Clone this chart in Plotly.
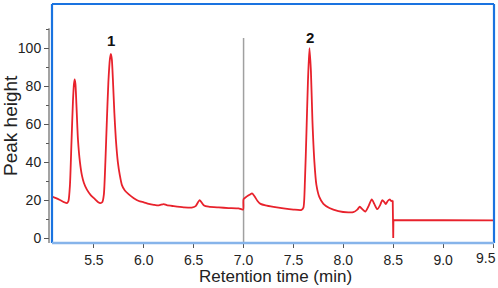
import plotly.graph_objects as go

# Chromatogram trace (retention time in min, peak height)
rt = [5.08, 5.12, 5.16, 5.20, 5.23, 5.245, 5.26, 5.275, 5.29, 5.30, 5.307, 5.315, 5.325, 5.34, 5.36,
      5.38, 5.40, 5.43, 5.47, 5.51, 5.54, 5.565, 5.585, 5.60, 5.615, 5.63, 5.645, 5.66, 5.67, 5.68,
      5.69, 5.705, 5.72, 5.74, 5.76, 5.78, 5.81, 5.85, 5.90, 5.95, 6.00, 6.05, 6.10, 6.15, 6.20,
      6.23, 6.30, 6.40, 6.48, 6.52, 6.56, 6.60, 6.65, 6.75, 6.85, 6.95, 6.995, 7.00, 7.03, 7.06,
      7.085, 7.11, 7.14, 7.17, 7.22, 7.30, 7.40, 7.50, 7.58, 7.60, 7.615, 7.63, 7.645, 7.66, 7.675,
      7.69, 7.71, 7.73, 7.76, 7.80, 7.86, 7.95, 8.05, 8.10, 8.14, 8.165, 8.19, 8.22, 8.25, 8.285,
      8.31, 8.34, 8.37, 8.39, 8.41, 8.425, 8.445, 8.465, 8.48, 8.495, 8.50, 8.502, 9.51]
height = [21.8, 21.0, 20.0, 18.9, 18.4, 19.5, 28, 50, 72, 81, 83.5, 81, 70, 52, 40,
          33, 29, 25.5, 22.5, 20.5, 19, 18.4, 19, 23, 40, 62, 82, 94, 97, 94,
          84, 66, 52, 40, 33, 28, 25, 23, 21, 19.5, 18.8, 18.0, 17.5, 17.2, 17.9,
          17.3, 16.8, 16.2, 16.0, 16.8, 20.0, 17.3, 16.5, 16.1, 15.8, 15.6, 15.0, 20.5, 21.8, 22.8,
          23.5, 22, 19.5, 18, 17.2, 16.4, 15.6, 15.0, 14.8, 16, 30, 55, 82, 100, 88,
          62, 40, 28, 21.5, 18, 15.8, 14.2, 13.5, 13.6, 15, 16.5, 15.2, 13.9, 16.5, 20.4,
          18, 15.2, 17.5, 20.0, 19, 17.9, 19.5, 20.4, 19.5, 19.8, 0, 9.5, 9.3]

x_ticks = [5.5, 6.0, 6.5, 7.0, 7.5, 8.0, 8.5, 9.0, 9.5]
y_ticks = [0, 20, 40, 60, 80, 100]
y_minor = [10, 30, 50, 70, 90, 110]
peak_labels = ["1", "2"]
peak_rt = [5.67, 7.665]
peak_label_y = [104.2, 105.8]
divider_rt = 7.0

W, H = 498, 288
L, R, T, B = 49, 4, 4, 45
PW, PH = W - L - R, H - T - B
def px_x(p):
    return (p - L) / PW
def px_y(p):
    return 1 - (p - T) / PH

font = "Liberation Sans, Arial, sans-serif"
x_lo, x_hi = 5.08, 9.51
y_lo, y_hi = -2.6, 123.2
red = "#e8222c"
tick_font = dict(family=font, size=14, color="#222")

# split at the detector step (8.5 min): smooth part, then straight step
cut = rt.index(8.495)
fig = go.Figure()
fig.add_trace(go.Scatter(x=rt[:cut + 1], y=height[:cut + 1], mode="lines",
                         line=dict(color=red, width=1.8, shape="spline", smoothing=0.6),
                         hoverinfo="skip"))
fig.add_trace(go.Scatter(x=rt[cut:], y=height[cut:], mode="lines",
                         line=dict(color=red, width=1.8), hoverinfo="skip"))

# last tick label sits at the right edge: draw it right-aligned so it is not cut
tick_text = [f"{v:.1f}" for v in x_ticks[:-1]] + [""]

fig.update_layout(
    width=W, height=H, margin=dict(l=L, r=R, t=T, b=B, autoexpand=False),
    paper_bgcolor="white", plot_bgcolor="white", showlegend=False,
    xaxis=dict(domain=[px_x(52), 1], range=[x_lo, x_hi], tickvals=x_ticks,
               ticktext=tick_text, ticks="outside", ticklen=4,
               tickcolor="#555", showgrid=False, zeroline=False, showline=False,
               ticklabeloverflow="allow", automargin=False, tickfont=tick_font),
    yaxis=dict(anchor="free", position=0, range=[y_lo, y_hi], tickvals=y_ticks,
               ticks="outside", ticklen=5, tickcolor="#555", showgrid=False,
               zeroline=False, showline=False, automargin=False,
               minor=dict(tickvals=y_minor, ticks="outside", ticklen=3, tickcolor="#555"),
               tickfont=tick_font),
)

shapes = [
    # y axis line
    dict(type="line", xref="paper", yref="y", x0=0, x1=0, y0=y_lo, y1=110.5,
         line=dict(color="#666", width=1.2)),
    # divider at 7.0
    dict(type="line", xref="x", yref="y", x0=divider_rt, x1=divider_rt, y0=y_lo, y1=105.3,
         line=dict(color="#a0a0a0", width=1.5), layer="below"),
    # frame
    dict(type="line", xref="paper", yref="paper", x0=px_x(52), x1=px_x(52), y0=0, y1=1,
         line=dict(color="#1a73e0", width=2.2)),
    dict(type="line", xref="paper", yref="paper", x0=px_x(52), x1=1, y0=1, y1=1,
         line=dict(color="#1a73e0", width=2.2)),
    dict(type="line", xref="paper", yref="paper", x0=1, x1=1, y0=0, y1=1,
         line=dict(color="#1a73e0", width=2.2)),
    dict(type="line", xref="paper", yref="paper", x0=px_x(52), x1=1, y0=0, y1=0,
         line=dict(color="#86b4ea", width=2.5)),
]
fig.update_layout(shapes=shapes)

ann = []
for lab, xv, yv in zip(peak_labels, peak_rt, peak_label_y):
    ann.append(dict(x=xv, y=yv, xref="x", yref="y", text=f"<b>{lab}</b>", showarrow=False,
                    font=dict(family=font, size=15, color="#111")))
ann.append(dict(x=px_x(497.5), y=px_y(258), xref="paper", yref="paper",
                text=f"{x_ticks[-1]:.1f}", showarrow=False, font=tick_font,
                xanchor="right", yanchor="middle", xshift=0))
ann.append(dict(x=px_x(275), y=px_y(276), xref="paper", yref="paper", text="Retention time (min)",
                showarrow=False, font=dict(family=font, size=17, color="#222"),
                xanchor="center", yanchor="middle"))
ann.append(dict(x=px_x(10), y=px_y(126), xref="paper", yref="paper", text="Peak height",
                showarrow=False, textangle=-90, font=dict(family=font, size=19, color="#222"),
                xanchor="center", yanchor="middle"))
fig.update_layout(annotations=ann)

fig.write_html("out.html", config={"displayModeBar": False},
               post_script="document.body.style.margin='0';document.body.style.overflow='hidden';")
